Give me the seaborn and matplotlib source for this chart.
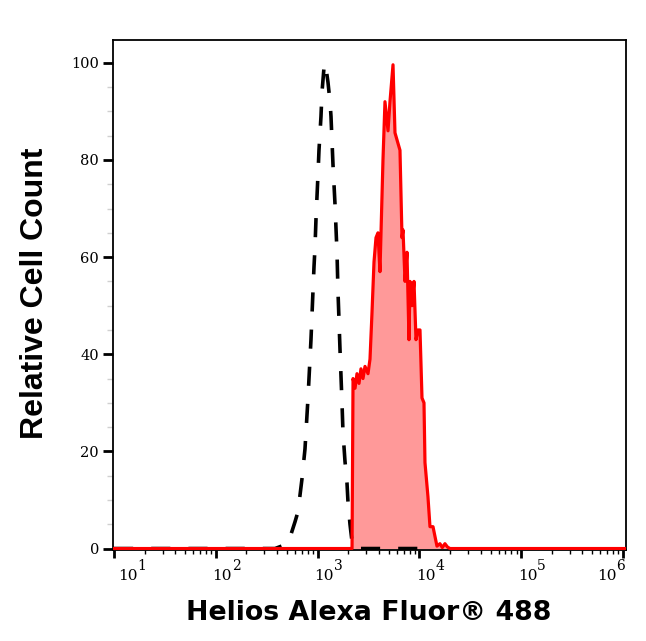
import numpy as np
import pandas as pd
import matplotlib
matplotlib.use("Agg")
import matplotlib.pyplot as plt
from matplotlib.ticker import FixedLocator, MultipleLocator, LogLocator, NullFormatter
import seaborn as sns

# Isotype control (black dashed)
iso_x = [10, 382, 512, 600, 642, 703, 752, 805, 861, 901, 922, 943, 965, 1009,
         1032, 1080, 1105, 1156, 1182, 1209, 1265, 1324, 1354, 1385, 1417, 1449,
         1482, 1516, 1551, 1586, 1623, 1660, 1737, 1776, 1858, 1945, 1989, 2081,
         2177, 2227, 10000]
iso_y = [0, 0, 1, 5.5, 7.6, 14.4, 20.5, 31, 43, 53, 58, 62, 68, 77,
         82, 89, 94, 99, 100, 99, 96, 92, 89, 84, 79, 75,
         71, 66, 61, 53, 47, 41, 30, 24, 18, 13.5, 9.6, 5,
         1.5, 0, 0]

# Helios stained sample (red filled)
helios_x = [9.8, 2081, 2180, 2230, 2333, 2438, 2553, 2668, 2793, 2923, 3128, 3273,
            3423, 3583, 3748, 3920, 4100, 4198, 4390, 4592, 4919, 5143, 5508,
            5758, 6448, 6750, 6904, 7228, 7554, 7907, 8091, 8459, 8853, 9264,
            9686, 10140, 10610, 11100, 11350, 12140, 12710, 13610, 14230, 14890,
            15920, 16800, 17830, 18900, 20000, 1.08e6]
helios_y = [0, 0, 0, 35, 33, 36, 34, 37, 35, 37.5, 36, 39,
            48.5, 59, 64, 65, 57, 65, 80, 92, 86, 92, 99.6,
            85.6, 82, 64, 65.6, 55, 61, 43, 55, 50, 55, 43,
            45, 45, 31, 30, 17.7, 10.7, 4.5, 4.5, 2.5, 0.5,
            1, 0.2, 1, 0.3, 0, 0]

x_ticks = [1e1, 1e2, 1e3, 1e4, 1e5, 1e6]
x_tick_exps = ["1", "2", "3", "4", "5", "6"]
y_ticks = [0, 20, 40, 60, 80, 100]
y_tick_labels = ["0", "20", "40", "60", "80", "100"]

sns.set_style("ticks")
plt.rcParams["text.color"] = "black"
plt.rcParams["axes.labelcolor"] = "black"
plt.rcParams["xtick.color"] = "black"
plt.rcParams["ytick.color"] = "black"

W, H = 646, 641
fig = plt.figure(figsize=(W / 100, H / 100), dpi=100)
ax_l, ax_r, ax_t, ax_b = 113, 626, 40, 550
ax = fig.add_axes([ax_l / W, 1 - ax_b / H, (ax_r - ax_l) / W, (ax_b - ax_t) / H])
ax.set_xscale("log")

ax.fill_between(helios_x, helios_y, 0, color="#ff9999", lw=0, zorder=1)
sns.lineplot(x=iso_x, y=iso_y, ax=ax, color="black", lw=2.6,
             linestyle=(0, (5.3, 5.0)), sort=False, estimator=None, zorder=2)
sns.lineplot(x=helios_x, y=helios_y, ax=ax, color="#ff0000", lw=2.3,
             sort=False, estimator=None, zorder=3)

ax.set_xlim(10 ** 0.99, 10 ** 6.03)
ax.set_ylim(-0.3, 104.7)

ax.xaxis.set_major_locator(FixedLocator(x_ticks))
ax.xaxis.set_major_formatter(NullFormatter())
ax.xaxis.set_minor_locator(LogLocator(base=10, subs=np.arange(2, 10)))
ax.xaxis.set_minor_formatter(NullFormatter())
ax.yaxis.set_major_locator(FixedLocator(y_ticks))
ax.set_yticklabels(y_tick_labels)
ax.yaxis.set_minor_locator(MultipleLocator(5))

ax.tick_params(axis="x", which="major", length=6, width=2, color="black",
               direction="out")
ax.tick_params(axis="x", which="minor", length=3, width=1, color="black")
ax.tick_params(axis="y", which="major", length=7, width=2, color="black",
               labelsize=10.5, pad=3, direction="out", labelcolor="black")
ax.tick_params(axis="y", which="minor", length=4, width=1, color="#d0d0d0")

for lab in ax.get_yticklabels():
    lab.set_fontfamily("DejaVu Serif")

# x tick labels: "10" with a large superscript exponent, kept inside the axes span
label_w = 26
for xt, ex in zip(x_ticks, x_tick_exps):
    px = ax.transData.transform((xt, 1))[0]
    left = px - 3.5
    left = max(left, ax_l + 5)
    left = min(left, ax_r - 3 - label_w)
    dx = (left - px) * 0.72
    ax.annotate("10", xy=(xt, 0), xycoords=("data", "axes fraction"),
                xytext=(dx, -30 * 0.72), textcoords="offset points",
                ha="left", va="baseline", fontsize=11, color="black",
                family=["DejaVu Serif"], annotation_clip=False)
    ax.annotate(ex, xy=(xt, 0), xycoords=("data", "axes fraction"),
                xytext=(dx + 19.5 * 0.72, -20 * 0.72), textcoords="offset points",
                ha="left", va="baseline", fontsize=10, color="black",
                family=["DejaVu Serif"], annotation_clip=False)

for sp in ax.spines.values():
    sp.set_visible(True)
    sp.set_linewidth(1.3)
    sp.set_color("black")

ax.set_xlabel("")
ax.set_ylabel("")

fig.text(368.5 / W, 1 - 620 / H, "Helios Alexa Fluor® 488",
         ha="center", va="baseline", fontsize=19.3, fontweight="bold",
         color="black", family=["DejaVu Sans"])
fig.text(35 / W, 1 - 293.5 / H, "Relative Cell Count",
         ha="center", va="center", rotation=90, fontsize=23, fontweight="bold",
         color="black", family=["Liberation Sans", "DejaVu Sans"])

fig.savefig("out.png", dpi=100, facecolor="white")
